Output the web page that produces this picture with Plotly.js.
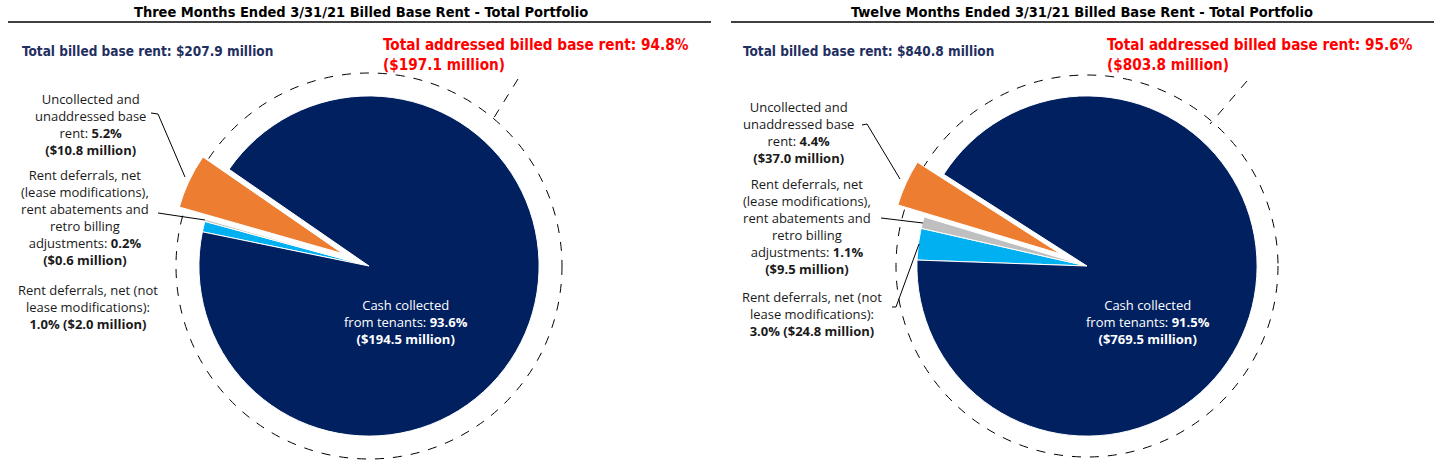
<!DOCTYPE html>
<html><head><meta charset="utf-8">
<script src="https://cdn.plot.ly/plotly-3.0.1.min.js"></script>
<style>html,body{margin:0;padding:0;background:#fff;}#chart{width:1441px;height:465px;}</style>
</head><body><div id="chart"></div>
<script>
// ---- data ----
const categories = ["Rent deferrals, net (not lease modifications)",
  "Rent deferrals, net (lease modifications), rent abatements and retro billing adjustments",
  "Uncollected and unaddressed base rent",
  "Cash collected from tenants"];
const sliceColors = ["#00B0F0", "#BFBFBF", "#ED7D31", "#002060"];
const threeMonthPct = [1.0, 0.2, 5.2, 93.6];
const threeMonthMil = [2.0, 0.6, 10.8, 194.5];
const twelveMonthPct = [3.0, 1.1, 4.4, 91.5];
const twelveMonthMil = [24.8, 9.5, 37.0, 769.5];
const panelTitles = ["Three Months Ended 3/31/21 Billed Base Rent - Total Portfolio",
  "Twelve Months Ended 3/31/21 Billed Base Rent - Total Portfolio"];
const totalBilled = [207.9, 840.8];
const totalAddressedPct = [94.8, 95.6];
const totalAddressedMil = [197.1, 803.8];

// ---- layout helpers (pixel -> paper) ----
const W = 1441, H = 465, MT = 67;
const PH = H - MT;
const px = v => v / W;
const py = v => (H - v) / PH;

const pull = [0, 0, 0.17, 0];
function pieTrace(vals, cx, rot) {
  const half = 0.16;
  return {
    type: 'pie', values: vals, labels: categories, sort: false,
    direction: 'clockwise', rotation: rot, pull: pull,
    marker: {colors: sliceColors, line: {color: '#ffffff', width: 1}},
    textinfo: 'none', hoverinfo: 'label+percent', showlegend: false,
    domain: {x: [px(cx) - half, px(cx) + half], y: [0, 1]}
  };
}
const fmt1 = v => v.toFixed(1);
const bodyFam = '"Open Sans", Lato, sans-serif';
const lblFont = {family: bodyFam, size: 13, color: '#1a1a1a'};
const narrow = '"DejaVu Sans Condensed", "DejaVu Sans", sans-serif';

const panels = [
  {cx: 369, cy: 266, dr: 193, rot: -78.4, pct: threeMonthPct, mil: threeMonthMil,
   titleX: 361, lineX: [8, 711], totX: 20, redX: 381, cashX: 406,
   lab: [[88, 307], [85, 217], [90, 124]],
   leaders: [null, [[158, 213], [205, 220]], [[151, 113], [158, 114], [185, 177]]],
   dashLead: [[518, 79], [490, 124]]},
  {cx: 1087, cy: 266, dr: 191, rot: -88, pct: twelveMonthPct, mil: twelveMonthMil,
   titleX: 1082, lineX: [731, 1434], totX: 741, redX: 1105, cashX: 1148,
   lab: [[812, 314], [807, 226], [798, 132]],
   leaders: [[[892, 307], [896, 307], [919, 244]], [[881, 218], [923, 223]], [[862, 125], [867, 124], [900, 179]]],
   dashLead: [[1247, 81], [1210, 124]]}
];

const data = [];
const shapes = [];
const annotations = [];
panels.forEach((p, i) => {
  data.push(pieTrace(p.pct, p.cx, p.rot));
  // title + rule
  annotations.push({xref: 'paper', yref: 'paper', x: px(p.titleX), y: py(12), xanchor: 'center', yanchor: 'middle',
    text: '<b>' + panelTitles[i] + '</b>', showarrow: false, font: {family: narrow, size: 14.5, color: '#000'}});
  shapes.push({type: 'line', xref: 'paper', yref: 'paper', x0: px(p.lineX[0]), x1: px(p.lineX[1]), y0: py(22), y1: py(22),
    line: {color: '#000', width: 1.3}});
  // totals
  annotations.push({xref: 'paper', yref: 'paper', x: px(p.totX), y: py(51), xanchor: 'left', yanchor: 'middle',
    text: '<b>Total billed base rent: $' + fmt1(totalBilled[i]) + ' million</b>', showarrow: false,
    font: {family: narrow, size: 13.5, color: '#1F2F5F'}});
  annotations.push({xref: 'paper', yref: 'paper', x: px(p.redX), y: py(55), xanchor: 'left', yanchor: 'middle', align: 'left',
    text: '<b>Total addressed billed base rent: ' + fmt1(totalAddressedPct[i]) + '%<br>($' + fmt1(totalAddressedMil[i]) + ' million)</b>',
    showarrow: false, font: {family: narrow, size: 15.2, color: '#FF0000'}});
  // dashed circle + leader
  shapes.push({type: 'circle', layer: 'below', xref: 'paper', yref: 'paper', x0: px(p.cx - p.dr), x1: px(p.cx + p.dr),
    y0: py(p.cy + p.dr), y1: py(p.cy - p.dr), line: {color: '#000', width: 1, dash: 'dash'}});
  shapes.push({type: 'path', xref: 'paper', yref: 'paper',
    path: 'M' + px(p.dashLead[0][0]) + ',' + py(p.dashLead[0][1]) + ' L' + px(p.dashLead[1][0]) + ',' + py(p.dashLead[1][1]),
    line: {color: '#000', width: 1, dash: 'dash'}});
  // slice labels
  const labelTexts = [
    'Rent deferrals, net (not<br>lease modifications):<br><b>' + fmt1(p.pct[0]) + '% ($' + fmt1(p.mil[0]) + ' million)</b>',
    'Rent deferrals, net<br>(lease modifications),<br>rent abatements and<br>retro billing<br>adjustments: <b>' + fmt1(p.pct[1]) + '%</b><br><b>($' + fmt1(p.mil[1]) + ' million)</b>',
    'Uncollected and<br>unaddressed base<br>rent: <b>' + fmt1(p.pct[2]) + '%</b><br><b>($' + fmt1(p.mil[2]) + ' million)</b>'
  ];
  labelTexts.forEach((t, k) => {
    annotations.push({xref: 'paper', yref: 'paper', x: px(p.lab[k][0]), y: py(p.lab[k][1]), xanchor: 'center', yanchor: 'middle',
      align: 'center', text: t, showarrow: false, font: lblFont});
    const L = p.leaders[k];
    if (L) {
      shapes.push({type: 'path', xref: 'paper', yref: 'paper',
        path: L.map((q, j) => (j ? 'L' : 'M') + px(q[0]) + ',' + py(q[1])).join(' '),
        line: {color: '#000', width: 1}});
    }
  });
  // cash collected label
  annotations.push({xref: 'paper', yref: 'paper', x: px(p.cashX), y: py(322), xanchor: 'center', yanchor: 'middle', align: 'center',
    text: 'Cash collected<br>from tenants: <b>' + fmt1(p.pct[3]) + '%</b><br><b>($' + fmt1(p.mil[3]) + ' million)</b>',
    showarrow: false, font: {family: bodyFam, size: 13, color: '#ffffff'}});
});

const layout = {
  width: W, height: H, margin: {l: 0, r: 0, t: MT, b: 0, pad: 0},
  paper_bgcolor: '#fff', plot_bgcolor: '#fff',
  shapes: shapes, annotations: annotations, showlegend: false
};
Plotly.newPlot('chart', data, layout, {displayModeBar: false, staticPlot: true});
</script></body></html>
